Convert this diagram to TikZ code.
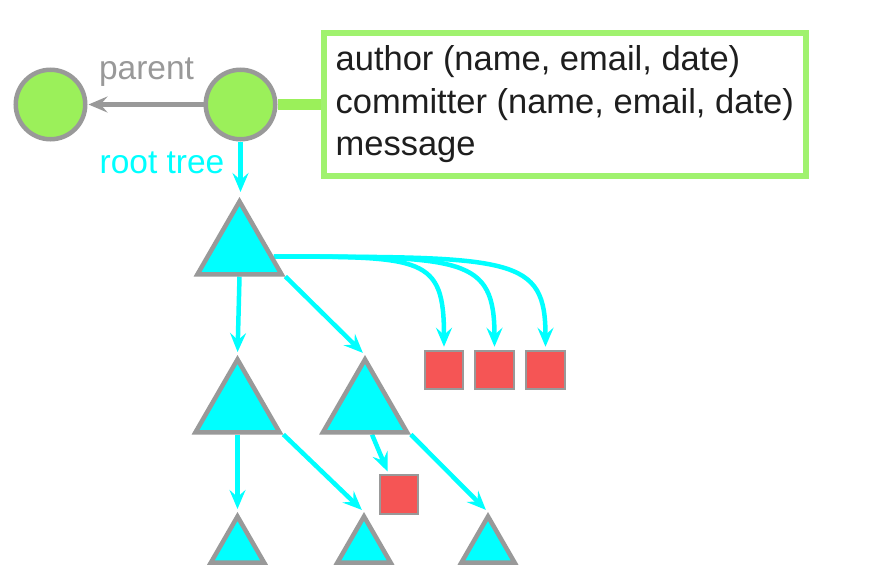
\documentclass[tikz,border=0pt]{standalone}
\usepackage{fontspec}
\setmainfont{Liberation Sans}
\usetikzlibrary{shapes.geometric,arrows.meta,calc,backgrounds}
\definecolor{cgreen}{RGB}{155,240,90}
\definecolor{boxgreen}{RGB}{160,242,110}
\definecolor{cgray}{RGB}{153,153,153}
\definecolor{ccyan}{RGB}{0,255,255}
\definecolor{cred}{RGB}{245,85,85}
\definecolor{ctext}{RGB}{30,30,30}
\begin{document}
\begin{tikzpicture}[x=1pt,y=-1pt,
  commit/.style={circle,draw=cgray,fill=cgreen,line width=4.5pt,minimum size=69.5pt,inner sep=0pt},
  tree/.style={regular polygon,regular polygon sides=3,draw=cgray,fill=ccyan,line width=4.5pt,inner sep=0pt,minimum size=97pt},
  smalltree/.style={tree,minimum size=61.4pt},
  blob/.style={rectangle,draw=cgray,fill=cred,line width=2pt,minimum size=38.5pt,inner sep=0pt},
  tipstyle/.style={-{Stealth[length=19pt,width=16pt,inset=7pt]}},
  link/.style={draw=ccyan,line width=4.5pt,tipstyle,shorten >=3pt},
  lbl/.style={anchor=base,font=\fontsize{33.5}{40}\selectfont,inner sep=0pt}
]
\useasboundingbox (0,0) rectangle (878,584);

% commits
\node[commit] (c1) at (50.5,104.5) {};
\node[commit] (c2) at (240.5,104.5) {};
\node[draw=boxgreen,line width=6pt,fill=white,minimum width=482.5pt,minimum height=143pt,
      inner sep=0pt,align=left,text=ctext,
      font=\fontsize{34.5}{42.5}\selectfont] (msg) at (564.75,104.5)
  {author (name, email, date)\\committer (name, email, date)\\message};
\node[lbl,text=cgray] (lparent) at (146.5,79) {parent};
\node[lbl,text=ccyan] (lroot) at (162,173) {root tree};

% trees
\node[tree] (t1) at (239.5,250) {};
\node[tree] (t2) at (237.5,408) {};
\node[tree] (t3) at (365,408) {};
\node[smalltree] (t4) at (237.5,547.2) {};
\node[smalltree] (t5) at (364,547.2) {};
\node[smalltree] (t6) at (488,547.2) {};

% blobs
\node[blob] (s1) at (444,370) {};
\node[blob] (s2) at (494.5,370) {};
\node[blob] (s3) at (545.5,370) {};
\node[blob] (s4) at (399,494.5) {};

\begin{scope}[on background layer]
  \fill[white] (0,0) rectangle (878,584);
  \draw[cgreen,line width=11pt] (c2.east) -- (msg.west);
  \draw[cgray,line width=4.5pt,tipstyle,shorten >=1pt] (c2) -- (c1);
  \draw[link,shorten >=5pt] (c2.south) -- (c2.south |- t1.north);
  \draw[link] (t1.south) -- (t2.north);
  \draw[link] (t1.corner 3) -- (t3.north);
  \coordinate (t1r) at ($(t1.corner 3)!0.25!(t1.corner 1)$);
  \draw[link] (t1r) .. controls +(150,0) and +(0,-93) .. (s1.north);
  \draw[link] (t1r) .. controls +(190,0) and +(0,-93) .. (s2.north);
  \draw[link] (t1r) .. controls +(240,0) and +(0,-93) .. (s3.north);
  \draw[link] (t2.south) -- (t4.north);
  \draw[link] (t2.corner 3) -- (t5.north);
  \draw[link] ($(t3.south)+(7,0)$) -- ($(s4.north west)+(10,0)$);
  \draw[link] (t3.corner 3) -- (t6.north);
\end{scope}
\end{tikzpicture}
\end{document}
